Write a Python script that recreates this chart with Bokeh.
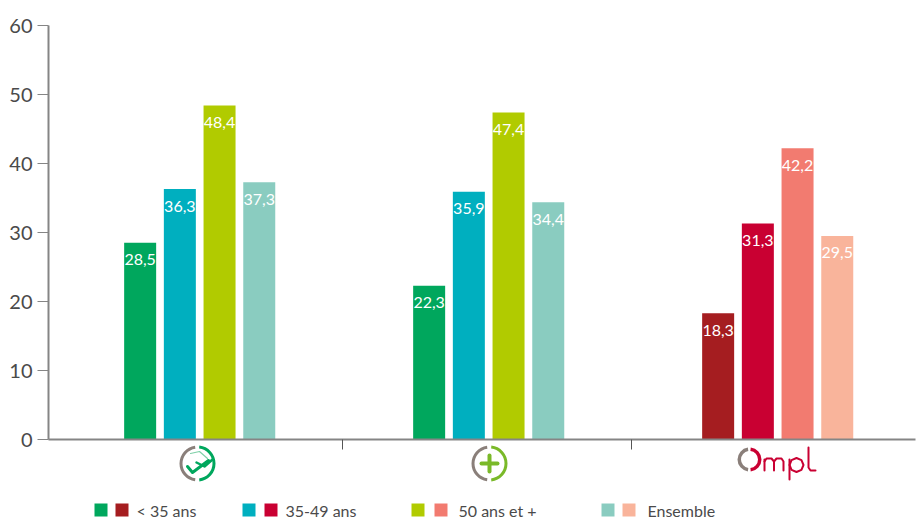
import numpy as np
from bokeh.plotting import figure
from bokeh.models import Range1d, FixedTicker, ColumnDataSource
from bokeh.core.properties import value
from bokeh.embed import file_html
from bokeh.resources import INLINE

groups = ["Bien-être", "Plus", "Ompl"]
series = ["< 35 ans", "35-49 ans", "50 ans et +", "Ensemble"]
under35 = [28.5, 22.3, 18.3]
age3549 = [36.3, 35.9, 31.3]
age50 = [48.4, 47.4, 42.2]
ensemble = [37.3, 34.4, 29.5]
y_ticks = [0, 10, 20, 30, 40, 50, 60]
colors_a = ["#00a75d", "#00afbf", "#b1cb00", "#8accc0"]
colors_b = ["#a51d20", "#c90032", "#f27b70", "#f9b49b"]
TXT = "#4a4a4a"
AX = "#858585"
FONT = "Lato"

W, H = 919, 519
PX_GROUP = 289.0
C0 = 199.2
Y0, PX_UNIT = 439.0, 6.9
def X(px): return (np.asarray(px, dtype=float) - C0) / PX_GROUP
def Y(px): return (Y0 - np.asarray(px, dtype=float)) / PX_UNIT

p = figure(width=W, height=H, output_backend="svg", toolbar_location=None,
           x_range=Range1d(float(X(0)), float(X(W))), y_range=Range1d(float(Y(H)), float(Y(0))),
           min_border=0, min_border_left=0, min_border_right=0, min_border_top=0, min_border_bottom=0)
p.styles = {"position": "absolute", "left": "0px", "top": "0px"}
p.outline_line_color = None
p.grid.visible = False
p.background_fill_color = "white"

# axes
ya = p.yaxis[0]
ya.fixed_location = float(X(48))
ya.bounds = (0, 60)
ya.ticker = FixedTicker(ticks=y_ticks)
ya.axis_line_color = AX; ya.axis_line_width = 2
ya.major_tick_line_color = AX; ya.major_tick_line_width = 1
ya.major_tick_in = 0; ya.major_tick_out = 11
ya.minor_tick_line_color = None
ya.major_label_text_font = FONT
ya.major_label_text_font_size = "20px"
ya.major_label_text_color = TXT
ya.major_label_standoff = 5

xa = p.xaxis[0]
xa.fixed_location = 0
xa.bounds = (float(X(48)), float(X(915)))
t1, t2 = float(X(342)), float(X(631))
xa.ticker = FixedTicker(ticks=[t1, t2])
xa.major_label_overrides = {t1: "", t2: ""}
xa.axis_line_color = AX; xa.axis_line_width = 2
xa.major_tick_line_color = "#555555"; xa.major_tick_line_width = 1
xa.major_tick_in = 0; xa.major_tick_out = 10
xa.minor_tick_line_color = None

# bars
step = 39.7 / PX_GROUP
bw = 32 / PX_GROUP
vals = [under35, age3549, age50, ensemble]
xs, ys, cs, labs = [], [], [], []
for s, v in enumerate(vals):
    for g, val in enumerate(v):
        xs.append(g + (s - 1.5) * step)
        ys.append(val)
        cs.append(colors_b[s] if g == 2 else colors_a[s])
        labs.append(f"{val:.1f}".replace(".", ","))
src = ColumnDataSource(dict(x=xs, top=ys, color=cs, lab=labs))
p.vbar(x="x", top="top", bottom=0, width=bw, color="color", line_color=None, source=src)
p.text(x="x", y="top", text="lab", source=src, text_color="white", text_align="center",
       text_baseline="middle", y_offset=17, text_font=value(FONT), text_font_size="16px")

# legend
sw_a = [94, 242, 411, 601]
sw_b = [115, 264, 434, 622]
tx = [136, 285, 458, 647]
for i, name in enumerate(series):
    for px, c in ((sw_a[i], colors_a[i]), (sw_b[i], colors_b[i])):
        p.rect(x=float(X(px + 6.5)), y=float(Y(509.5)), width=13 / PX_GROUP, height=13 / PX_UNIT,
               color=c, line_color=None)
    p.text(x=[float(X(tx[i]))], y=[float(Y(510))], text=[name], text_color=TXT, text_align="left",
           text_baseline="middle", text_font=value(FONT), text_font_size="16px")

# logos (drawn from primitives)
GRAY = "#8a7f7a"
def ring(cx, cy, r, th, col):
    p.annular_wedge(x=float(X(cx)), y=float(Y(cy)), inner_radius=r - th, outer_radius=r,
                    inner_radius_units="screen", outer_radius_units="screen",
                    start_angle=np.radians(98), end_angle=np.radians(262), color=GRAY, line_color=None)
    p.annular_wedge(x=float(X(cx)), y=float(Y(cy)), inner_radius=r - th, outer_radius=r,
                    inner_radius_units="screen", outer_radius_units="screen",
                    start_angle=np.radians(-84), end_angle=np.radians(84), color=col, line_color=None)
def stroke(pxs, pys, col, w):
    p.line(x=X(pxs), y=Y(pys), line_color=col, line_width=w, line_cap="round", line_join="round")

G1, G2, R = "#00a75d", "#7ab929", "#c90032"
ring(197, 463, 18, 3, G1)
stroke([190, 199, 207], [453, 451, 458], "#7fd0a8", 1.2)
stroke([187, 192, 208], [466, 472, 460], G1, 3)
stroke([196, 204, 212], [462, 466, 459], G1, 2.5)
ring(489, 463, 18, 3, G2)
stroke([481, 497], [463, 463], G2, 4)
stroke([489, 489], [455, 471], G2, 4)

ring(749, 459, 12, 3.5, R)
stroke([764, 764], [470, 459], R, 2)
stroke([764, 766, 771, 773.5, 773.5], [461, 458, 458, 461, 470], R, 2)
stroke([773.5, 776, 781, 783, 783], [461, 458, 458, 461, 470], R, 2)
stroke([789, 789], [479, 459], R, 2)
th = np.radians(np.array([0, 45, 90, 135, 180, 225, 270, 315, 360]))
stroke(796 + 7 * np.cos(th), 464.5 + 7 * np.sin(th), R, 2)
stroke([808, 808, 810, 815], [447, 467, 470, 470], R, 2)

open("out.html", "w").write(file_html(p, INLINE))
